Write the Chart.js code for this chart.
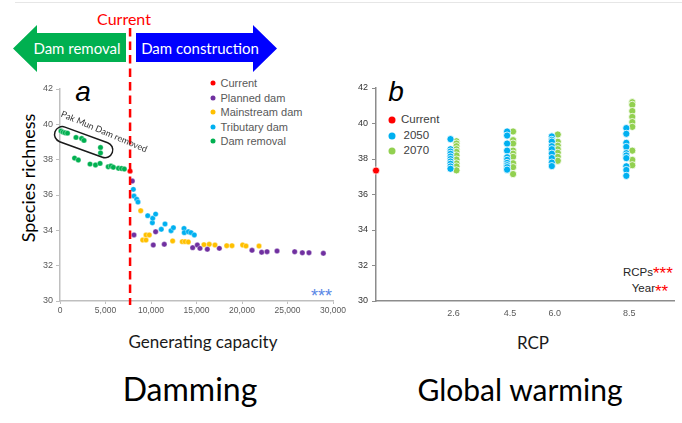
<!DOCTYPE html>
<html><head><meta charset="utf-8">
<script src="https://cdn.jsdelivr.net/npm/chart.js@4.4.1/dist/chart.umd.min.js"></script>
<style>
html,body{margin:0;padding:0;background:#fff;}
#wrap{position:relative;width:682px;height:423px;overflow:hidden;background:#fff;}
canvas{position:absolute;top:0;}
.t{position:absolute;white-space:nowrap;line-height:1;transform:translate(-50%,-50%);}
.l{position:absolute;white-space:nowrap;line-height:1;transform:translate(0,-50%);}
.r{position:absolute;white-space:nowrap;line-height:1;transform:translate(-100%,-50%);}
.cal{font-family:Lato,'Open Sans',sans-serif;}
.ar{font-family:'Liberation Sans',Arial,sans-serif;}
.dot{position:absolute;border-radius:50%;transform:translate(-50%,-50%);}
.arrow{position:absolute;}
</style></head>
<body><div id="wrap">
<div style="position:absolute;left:15px;right:0;top:2px;height:1px;background:#e6e6e6"></div>
<div class="arrow" style="left:13px;top:25px;width:113px;height:47px;background:#00b050;clip-path:polygon(0 23.5px,24px 0,24px 8px,113px 8px,113px 37px,24px 37px,24px 47px)"></div>
<div class="arrow" style="left:136px;top:25px;width:141px;height:47px;background:#0000ff;clip-path:polygon(0 8px,117px 8px,117px 0,141px 23.5px,117px 47px,117px 37px,0 37px)"></div>
<div class="t cal" style="left:124px;top:19px;font-size:16px;color:#ff0000">Current</div>
<div class="t cal" style="left:77px;top:48px;font-size:15px;color:#fff">Dam removal</div>
<div class="t cal" style="left:200px;top:48px;font-size:15px;color:#fff">Dam construction</div>
<div class="t cal" style="left:28px;top:178px;font-size:18px;color:#000;transform:translate(-50%,-50%) rotate(-90deg)">Species richness</div>
<div class="t cal" style="left:203px;top:341px;font-size:17px;color:#1a1a1a">Generating capacity</div>
<div class="t cal" style="left:533px;top:342px;font-size:17px;color:#1a1a1a">RCP</div>
<div class="t cal" style="left:190px;top:389px;font-size:32px;color:#000">Damming</div>
<div class="t cal" style="left:520px;top:389px;font-size:30px;color:#000">Global warming</div>
<div class="t ar" style="left:83px;top:92px;font-size:28px;font-style:italic;color:#000">a</div>
<div class="t ar" style="left:396px;top:92px;font-size:28px;font-style:italic;color:#000">b</div>
<div id="legA"></div>
<div id="legB"></div>
<div class="l ar" style="left:311px;top:296px;font-size:18px;color:#5a87e6">***</div>
<div class="r ar" style="left:653px;top:273px;font-size:11.5px;color:#262626">RCPs</div>
<div class="l ar" style="left:653px;top:273px;font-size:17px;color:#ff0000">***</div>
<div class="r ar" style="left:655px;top:289px;font-size:11.5px;color:#262626">Year</div>
<div class="l ar" style="left:655px;top:291px;font-size:17px;color:#ff0000">**</div>
<canvas id="ca" width="360" height="423" style="left:0"></canvas>
<canvas id="cb" width="342" height="423" style="left:340px"></canvas>
</div>
<script>
// ---------- Panel a data ----------
const currentCapacity = [7700];
const currentRichness = [37.35];
const removalX = [110,330,550,820,1760,2380,2640,4450,4450,1600,2010,3300,3900,4400,5300,5600,5860,6430,6760,7070];
const removalY = [39.62,39.56,39.52,39.5,39.26,39.2,39.09,38.69,38.38,38.09,37.98,37.75,37.70,37.79,37.6,37.64,37.57,37.51,37.5,37.47];
const plannedX = [7950,8130,10250,10510,11460,14580,15090,15380,16190,17510,21100,22160,22750,23850,25790,26630,27360,28940];
const plannedY = [36.79,33.74,33.17,33.92,33.21,33.02,33.17,32.98,32.93,32.98,32.87,32.76,32.79,32.83,32.79,32.73,32.73,32.7];
const mainstreamX = [8870,9090,9450,9450,9810,12380,13440,13740,14100,15820,16400,17030,18320,18900,20070,20440,21870];
const mainstreamY = [35.11,33.45,33.45,33.74,33.74,33.4,33.36,33.36,33.34,33.19,33.21,33.17,33.13,33.13,33.17,33.11,33.11];
const tributaryX = [8060,8130,8430,8570,9640,10150,10190,10510,11130,11540,12200,12460,13630,13660,14100,14400,14760];
const tributaryY = [36.32,35.94,35.76,35.6,34.83,34.43,34.68,34.92,34.06,34.36,33.98,34.15,34.11,33.87,33.92,33.87,33.74];
const capacityTicks = [0,5000,10000,15000,20000,25000,30000];
const richnessTicks = [30,32,34,36,38,40,42];
const legendA = ['Current','Planned dam','Mainstream dam','Tributary dam','Dam removal'];
const pakMunLabel = 'Pak Mun Dam removed';
const pakMunCenter = [2600, 38.99];
const pakMunLabelAt = [4850, 39.58];

// ---------- Panel b data ----------
const rcpValues = [2.6, 4.5, 6.0, 8.5];
const rcpLabels = ['2.6','4.5','6.0','8.5'];
const currentB = [37.35];
const richness2050 = [
  [39.12,38.55,38.42,38.29,38.14,38.0,37.86,37.73,37.58,37.45],
  [39.55,39.32,38.87,38.47,38.1,37.95,37.78,37.65,37.54,37.4],
  [39.27,39.08,38.98,38.72,38.55,38.3,38.05,37.8,37.6],
  [39.74,39.42,38.91,38.68,38.33,38.2,38.05,37.59,37.38,37.05]
];
const richness2070 = [
  [39.0,38.87,38.72,38.55,38.4,38.2,37.97,37.75,37.58,37.36],
  [39.55,39.06,38.87,38.47,38.3,38.12,37.76,37.54,37.15],
  [39.38,38.97,38.75,38.55,38.35,38.12,37.9],
  [41.2,41.05,40.7,40.37,40.08,39.81,38.47,37.95,37.65]
];
const legendB = ['Current','2050','2070'];

// ---------- styling ----------
const AR = "'Liberation Sans', Arial, sans-serif";
const colA = {'Current':'#ff0000','Planned dam':'#7030a0','Mainstream dam':'#ffc000','Tributary dam':'#00b0f0','Dam removal':'#00b050'};
const colB = {'Current':'#ff0000','2050':'#00b0f0','2070':'#92d050'};
const pts = (xs, ys) => xs.map((x, i) => ({x, y: ys[i]}));

// HTML legends
(function(){
  const la = document.getElementById('legA');
  legendA.forEach((name, i) => {
    const y = 83.3 + i * 14.4;
    la.insertAdjacentHTML('beforeend',
      `<div class="dot" style="left:212.7px;top:${y}px;width:5px;height:5px;background:${colA[name]}"></div>` +
      `<div class="l ar" style="left:220.5px;top:${y}px;font-size:11px;color:#595959">${name}</div>`);
  });
  const lb = document.getElementById('legB');
  const rowsB = [120, 135.5, 151];
  legendB.forEach((name, i) => {
    const y = rowsB[i];
    lb.insertAdjacentHTML('beforeend',
      `<div class="dot" style="left:392.3px;top:${y}px;width:7px;height:7px;background:${colB[name]}"></div>` +
      `<div class="l ar" style="left:${i===0?401:403.5}px;top:${y}px;font-size:11.5px;color:#404040">${name}</div>`);
  });
})();

const overlayA = {
  id: 'overlayA',
  afterDatasetsDraw(chart) {
    const {ctx, chartArea} = chart;
    const x = chart.scales.x, y = chart.scales.y;
    ctx.save();
    const lx = x.getPixelForValue(currentCapacity[0]);
    ctx.strokeStyle = '#ff0000'; ctx.lineWidth = 2.5; ctx.setLineDash([8.5, 5]);
    ctx.beginPath(); ctx.moveTo(lx, 28); ctx.lineTo(lx, chartArea.bottom + 4); ctx.stroke();
    ctx.setLineDash([]);
    ctx.restore();
    // Pak Mun loop
    ctx.save();
    ctx.translate(x.getPixelForValue(pakMunCenter[0]), y.getPixelForValue(pakMunCenter[1]));
    ctx.rotate(20 * Math.PI / 180);
    const L = 61, H = 15.5, r = H / 2;
    ctx.beginPath();
    ctx.moveTo(-L/2 + r, -r); ctx.lineTo(L/2 - r, -r);
    ctx.arc(L/2 - r, 0, r, -Math.PI/2, Math.PI/2);
    ctx.lineTo(-L/2 + r, r);
    ctx.arc(-L/2 + r, 0, r, Math.PI/2, 3*Math.PI/2);
    ctx.closePath();
    ctx.strokeStyle = '#1a1a1a'; ctx.lineWidth = 1.5; ctx.stroke();
    ctx.restore();
    ctx.save();
    ctx.translate(x.getPixelForValue(pakMunLabelAt[0]), y.getPixelForValue(pakMunLabelAt[1]));
    ctx.rotate(23 * Math.PI / 180);
    ctx.font = "9px Lato, 'Open Sans', sans-serif";
    ctx.fillStyle = '#333333'; ctx.textAlign = 'center'; ctx.textBaseline = 'middle';
    ctx.fillText(pakMunLabel, 0, 0);
    ctx.restore();
  }
};

const dsA = (label, xs, ys) => ({label, data: pts(xs, ys), backgroundColor: colA[label],
  borderColor: 'rgba(255,255,255,0.7)', borderWidth: 0.5, pointRadius: 2.7, pointHoverRadius: 2.7, clip: false});

new Chart(document.getElementById('ca'), {
  type: 'scatter',
  data: { datasets: [
    dsA('Current', currentCapacity, currentRichness),
    dsA('Planned dam', plannedX, plannedY),
    dsA('Mainstream dam', mainstreamX, mainstreamY),
    dsA('Tributary dam', tributaryX, tributaryY),
    dsA('Dam removal', removalX, removalY)
  ]},
  options: {
    responsive: false, animation: false, devicePixelRatio: 1,
    events: [],
    layout: { padding: { left: 20, right: 27, top: 89, bottom: 100 } },
    plugins: { legend: { display: false }, tooltip: { enabled: false } },
    scales: {
      x: { type: 'linear', min: capacityTicks[0], max: capacityTicks[capacityTicks.length-1],
        afterBuildTicks: s => { s.ticks = capacityTicks.map(v => ({value: v})); },
        ticks: { color: '#595959', font: { family: AR, size: 8.5 }, padding: 2, maxRotation: 0, autoSkip: false },
        grid: { drawOnChartArea: false, tickLength: 3, color: '#bfbfbf' },
        border: { color: '#bfbfbf', width: 1.5 },
        afterFit: s => { s.height = 22; } },
      y: { type: 'linear', min: richnessTicks[0], max: richnessTicks[richnessTicks.length-1],
        afterBuildTicks: s => { s.ticks = richnessTicks.map(v => ({value: v})); },
        ticks: { color: '#595959', font: { family: AR, size: 9 }, padding: 3 },
        grid: { drawOnChartArea: false, tickLength: 4, color: '#bfbfbf' },
        border: { color: '#bfbfbf', width: 1.5 },
        afterFit: s => { s.width = 40; } }
    }
  },
  plugins: [overlayA]
});

const flatten = (arr, off) => arr.flatMap((col, i) => col.map(v => ({x: rcpValues[i] + off, y: v})));
const dsB = (label, data) => ({label, data, backgroundColor: colB[label], borderColor: '#ffffff',
  borderWidth: 0.8, pointRadius: 3.6, pointHoverRadius: 3.6, clip: false});

new Chart(document.getElementById('cb'), {
  type: 'scatter',
  data: { datasets: [
    dsB('Current', currentB.map(v => ({x: 0, y: v}))),
    dsB('2050', flatten(richness2050, -0.1)),
    dsB('2070', flatten(richness2070, 0.1))
  ]},
  options: {
    responsive: false, animation: false, devicePixelRatio: 1,
    events: [],
    layout: { padding: { left: 6, right: 8, top: 88, bottom: 100 } },
    plugins: { legend: { display: false }, tooltip: { enabled: false } },
    scales: {
      x: { type: 'linear', min: 0, max: 10,
        afterBuildTicks: s => { s.ticks = rcpValues.map(v => ({value: v})); },
        ticks: { color: '#595959', font: { family: AR, size: 9 }, padding: 7, maxRotation: 0, autoSkip: false,
          callback: v => rcpLabels[rcpValues.indexOf(v)] },
        grid: { drawOnChartArea: false, drawTicks: false, color: '#8c8c8c' },
        border: { color: '#8c8c8c', width: 1.5 },
        afterFit: s => { s.height = 22; } },
      y: { type: 'linear', min: richnessTicks[0], max: richnessTicks[richnessTicks.length-1],
        afterBuildTicks: s => { s.ticks = richnessTicks.map(v => ({value: v})); },
        ticks: { color: '#333333', font: { family: AR, size: 9 }, padding: 4 },
        grid: { drawOnChartArea: false, tickLength: 4, color: '#8c8c8c' },
        border: { color: '#8c8c8c', width: 1.5 },
        afterFit: s => { s.width = 30; } }
    }
  }
});
</script>
</body></html>
